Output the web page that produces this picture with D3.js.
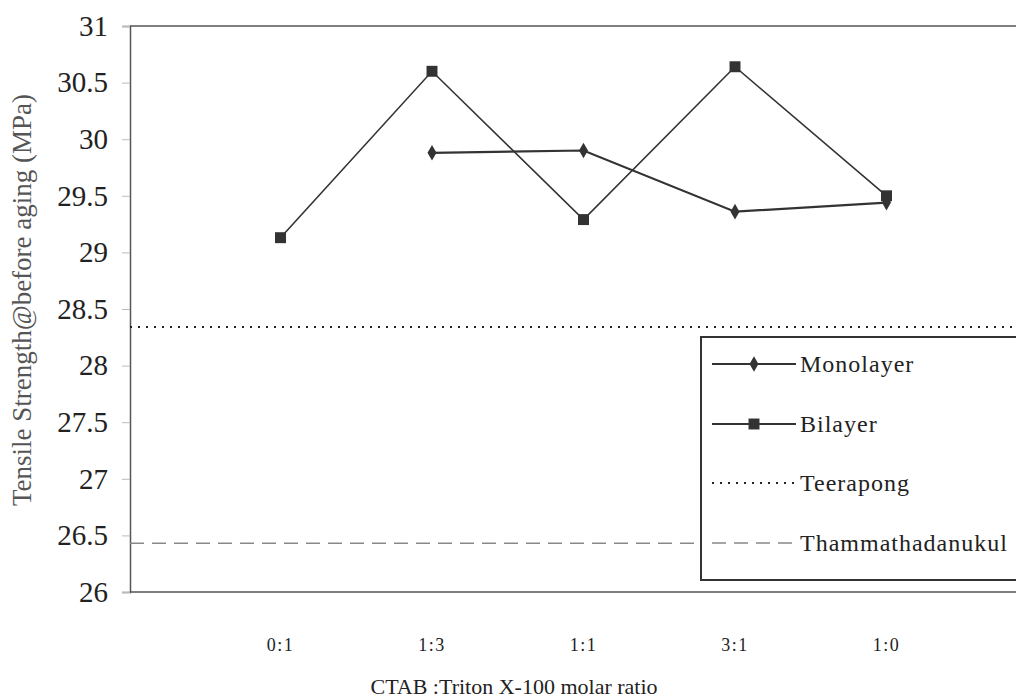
<!DOCTYPE html>
<html>
<head>
<meta charset="utf-8">
<script src="https://cdn.jsdelivr.net/npm/d3@7"></script>
<style>
  html, body { margin: 0; padding: 0; background: #fff; }
  svg { display: block; }
</style>
</head>
<body>
<svg id="chart" width="1016" height="700"></svg>
<script>
// Tensile strength before aging vs. CTAB : Triton X-100 molar ratio
const categories = ["0:1", "1:3", "1:1", "3:1", "1:0"];
const monolayer = [null, 29.88, 29.90, 29.36, 29.44];
const bilayer = [29.13, 30.60, 29.29, 30.64, 29.50];
const teerapong = 28.34;
const thammathadanukul = 26.43;
const yTicks = [26, 26.5, 27, 27.5, 28, 28.5, 29, 29.5, 30, 30.5, 31];

const SERIF = "Liberation Serif";
const svg = d3.select("#chart");
const plotLeft = 130, plotTop = 26, plotBottom = 592, plotRight = 1040;

// categories sit on tick marks, with an empty slot at each end
const x = d3.scalePoint()
  .domain(["_a", ...categories, "_b"])
  .range([plotLeft - 1, plotLeft - 1 + 6 * 151.5]);
const y = d3.scaleLinear().domain([26, 31]).range([plotBottom, plotTop]);

// frame
svg.append("line").attr("x1", plotLeft).attr("x2", plotRight).attr("y1", plotTop).attr("y2", plotTop)
  .attr("stroke", "#555").attr("stroke-width", 1.5);
svg.append("line").attr("x1", plotLeft).attr("x2", plotRight).attr("y1", plotBottom).attr("y2", plotBottom)
  .attr("stroke", "#555").attr("stroke-width", 1.5);

// y axis
const yAxis = svg.append("g").attr("transform", `translate(${plotLeft},0)`)
  .call(d3.axisLeft(y).tickValues(yTicks).tickSize(8).tickPadding(14)
    .tickFormat(d => String(d)));
yAxis.select(".domain").attr("stroke", "#555").attr("stroke-width", 1.5);
yAxis.selectAll(".tick line").attr("stroke", "#bbb");
yAxis.selectAll(".tick text").attr("font-size", 29).attr("fill", "#222")
  .style("font-family", SERIF);

// x tick labels (no tick marks)
svg.append("g").selectAll("text").data(categories).join("text")
  .attr("x", d => x(d)).attr("y", 651)
  .attr("text-anchor", "middle").attr("font-size", 18).attr("fill", "#222")
  .attr("letter-spacing", 1.5).style("font-family", SERIF)
  .text(d => d);

// axis titles
svg.append("text").attr("x", 514).attr("y", 694).attr("text-anchor", "middle")
  .attr("font-size", 22).attr("fill", "#222").style("font-family", SERIF)
  .text("CTAB :Triton X-100 molar ratio");
svg.append("text").attr("transform", `translate(31,300) rotate(-90)`)
  .attr("text-anchor", "middle").attr("font-size", 27).attr("fill", "#555")
  .style("font-family", SERIF)
  .text("Tensile Strength@before aging (MPa)");

// reference lines
svg.append("line").attr("x1", plotLeft).attr("x2", 1016)
  .attr("y1", y(teerapong)).attr("y2", y(teerapong))
  .attr("stroke", "#222").attr("stroke-width", 2).attr("stroke-dasharray", "2,6");
svg.append("line").attr("x1", plotLeft).attr("x2", 1016)
  .attr("y1", y(thammathadanukul)).attr("y2", y(thammathadanukul))
  .attr("stroke", "#888").attr("stroke-width", 1.5).attr("stroke-dasharray", "14,8");

// series
const line = d3.line().defined(d => d.v != null).x(d => x(d.c)).y(d => y(d.v));
const bil = categories.map((c, i) => ({ c, v: bilayer[i] }));
const mono = categories.map((c, i) => ({ c, v: monolayer[i] }));

svg.append("path").datum(bil).attr("d", line).attr("fill", "none")
  .attr("stroke", "#333").attr("stroke-width", 1.6);
svg.append("path").datum(mono).attr("d", line).attr("fill", "none")
  .attr("stroke", "#333").attr("stroke-width", 2.2);

const sq = d3.symbol().type(d3.symbolSquare).size(120);
const dia = d3.symbol().type(d3.symbolDiamond).size(70);
svg.append("g").selectAll("path").data(bil).join("path")
  .attr("transform", d => `translate(${x(d.c)},${y(d.v)})`)
  .attr("d", sq).attr("fill", "#333");
svg.append("g").selectAll("path").data(mono.filter(d => d.v != null)).join("path")
  .attr("transform", d => `translate(${x(d.c)},${y(d.v)})`)
  .attr("d", dia).attr("fill", "#333");

// legend
const lg = svg.append("g");
lg.append("rect").attr("x", 701).attr("y", 337).attr("width", 340).attr("height", 243)
  .attr("fill", "#fff").attr("stroke", "#333").attr("stroke-width", 2);
const items = [
  { name: "Monolayer", dash: null, color: "#333", w: 2, marker: dia },
  { name: "Bilayer", dash: null, color: "#333", w: 1.8, marker: sq },
  { name: "Teerapong", dash: "2,6", color: "#222", w: 2, marker: null },
  { name: "Thammathadanukul", dash: "14,8", color: "#888", w: 1.5, marker: null }
];
const rowY = [364, 424, 483, 543];
items.forEach((it, i) => {
  const g = lg.append("g").attr("transform", `translate(0,${rowY[i]})`);
  g.append("line").attr("x1", 712).attr("x2", 796).attr("y1", 0).attr("y2", 0)
    .attr("stroke", it.color).attr("stroke-width", it.w)
    .attr("stroke-dasharray", it.dash);
  if (it.marker) g.append("path").attr("transform", "translate(754,0)")
    .attr("d", it.marker).attr("fill", "#333");
  g.append("text").attr("x", 800).attr("y", 8).attr("font-size", 24)
    .attr("fill", "#222").attr("letter-spacing", 1).style("font-family", SERIF)
    .text(it.name);
});
</script>
</body>
</html>
